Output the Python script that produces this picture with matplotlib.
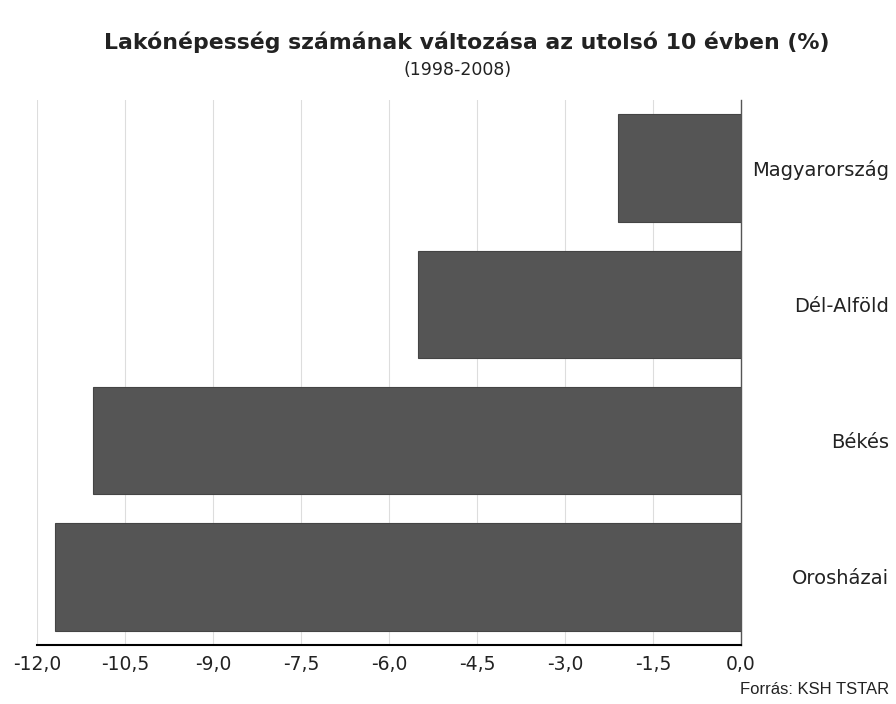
import matplotlib
matplotlib.use("Agg")
import matplotlib.pyplot as plt

categories = ["Magyarország", "Dél-Alföld", "Békés", "Orosházai"]
values = [-2.1, -5.5, -11.05, -11.7]
xticks = [-12.0, -10.5, -9.0, -7.5, -6.0, -4.5, -3.0, -1.5, 0.0]
xtick_labels = ["-12,0", "-10,5", "-9,0", "-7,5", "-6,0", "-4,5", "-3,0", "-1,5", "0,0"]

plt.rcParams['font.family'] = ['DejaVu Sans']

fig = plt.figure(figsize=(8.96, 7.04), dpi=100)
ax = fig.add_axes([37/896, 1-645/704, (741-37)/896, (645-100)/704])

ypos = list(range(len(categories)))
ax.barh(ypos, values, height=0.79, color="#555555", edgecolor="#444444", linewidth=0.8, zorder=3)

ax.set_xlim(-12, 0)
ax.set_ylim(3.5, -0.5)
ax.set_xticks(xticks)
ax.set_xticklabels(xtick_labels, fontsize=13.5, color="#222222")
ax.tick_params(axis='x', length=0, pad=7)

ax.grid(axis='x', color="#dddddd", linewidth=0.8, zorder=0)
ax.set_axisbelow(True)

for s in ["top", "left"]:
    ax.spines[s].set_visible(False)
ax.spines["bottom"].set_color("black")
ax.spines["bottom"].set_linewidth(1.5)
ax.spines["right"].set_color("#555555")
ax.spines["right"].set_linewidth(1.0)

ax.yaxis.tick_right()
ax.set_yticks(ypos)
ax.set_yticklabels(categories, fontsize=14, color="#222222")
pad_pt = (889 - 741) * 72 / 100
ax.tick_params(axis='y', length=0, pad=pad_pt)
for lab in ax.get_yticklabels():
    lab.set_horizontalalignment('right')

fig.text(467/896, 1-42/704, "Lakónépesség számának változása az utolsó 10 évben (%)",
         ha='center', va='center', fontsize=15.8, fontweight='bold', color="#222222")
fig.text(458/896, 1-70/704, "(1998-2008)", ha='center', va='center', fontsize=12.5, color="#222222")
fig.text(889/896, 1-690/704, "Forrás: KSH TSTAR", ha='right', va='center', fontsize=12,
         family=['Liberation Sans'], color="#222222")

fig.savefig("out.png", dpi=100)
